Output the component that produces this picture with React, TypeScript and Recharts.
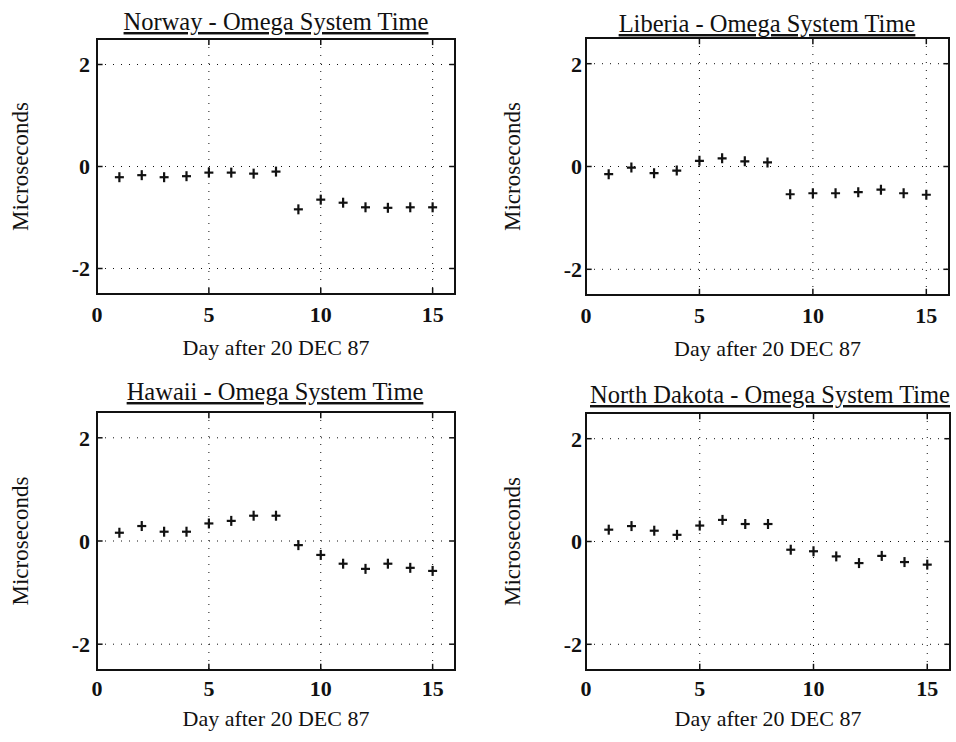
import React from "react";
import {
  ScatterChart,
  Scatter,
  XAxis,
  YAxis,
  CartesianGrid,
  ReferenceArea,
  ReferenceLine,
} from "recharts";

// days after 20 DEC 87
const days = [1, 2, 3, 4, 5, 6, 7, 8, 9, 10, 11, 12, 13, 14, 15];

// Omega system time offsets, microseconds
const norway = [-0.21, -0.17, -0.21, -0.19, -0.12, -0.12, -0.14, -0.1, -0.84, -0.65, -0.71, -0.8, -0.81, -0.8, -0.8];
const liberia = [-0.15, -0.02, -0.13, -0.08, 0.11, 0.16, 0.1, 0.08, -0.54, -0.52, -0.52, -0.5, -0.45, -0.52, -0.55];
const hawaii = [0.16, 0.29, 0.18, 0.18, 0.34, 0.39, 0.49, 0.49, -0.08, -0.27, -0.44, -0.54, -0.44, -0.52, -0.58];
const northDakota = [0.23, 0.3, 0.21, 0.13, 0.31, 0.42, 0.34, 0.34, -0.16, -0.19, -0.29, -0.42, -0.28, -0.4, -0.45];

const xTicks = [0, 5, 10, 15];
const yTicks = [-2, 0, 2];
const xDomain = [0, 16];
const yDomain = [-2.5, 2.5];

const xLabel = "Day after 20 DEC 87";
const yLabel = "Microseconds";

const FONT = '"Liberation Serif", "Times New Roman", serif';
const INK = "#111";

// little "+" marker like the old plotter output
function Plus(props: any) {
  const { cx, cy } = props;
  if (cx == null || cy == null) return null;
  return (
    <g>
      <line x1={cx - 4.5} x2={cx + 4.5} y1={cy} y2={cy} stroke={INK} strokeWidth={2.2} />
      <line x1={cx} x2={cx} y1={cy - 5} y2={cy + 5} stroke={INK} strokeWidth={2.2} />
    </g>
  );
}

interface PanelProps {
  values: number[];
  left: number;
  top: number;
  width: number;
  height: number;
  margin: { top: number; right: number; bottom: number; left: number };
  xAxisHeight: number;
  yAxisWidth: number;
  yLabelX: number;
  yTickGap: number;
  xTickGap: number;
  xLabelOffset: number;
}

function Panel(p: PanelProps) {
  const data = days.map((d, i) => ({ day: d, v: p.values[i] }));

  // rotated y label, centred on the plot height
  const renderYLabel = (props: any) => {
    const vb = props.viewBox || {};
    const cy = (vb.y || 0) + (vb.height || 0) / 2;
    return (
      <text
        x={p.yLabelX}
        y={cy}
        transform={`rotate(-90, ${p.yLabelX}, ${cy})`}
        textAnchor="middle"
        dominantBaseline="central"
        fill={INK}
        fontFamily={FONT}
        fontSize={23}
      >
        {yLabel}
      </text>
    );
  };

  return (
    <div style={{ position: "absolute", left: p.left, top: p.top }}>
      <ScatterChart width={p.width} height={p.height} margin={p.margin}>
        <CartesianGrid stroke={INK} strokeDasharray="1 7" strokeWidth={1} />
        <XAxis
          dataKey="day"
          type="number"
          domain={xDomain}
          ticks={xTicks}
          height={p.xAxisHeight}
          axisLine={false}
          tickLine={false}
          tickSize={0}
          tickMargin={p.xTickGap}
          tick={{ fill: INK, fontFamily: FONT, fontSize: 22, fontWeight: "bold" }}
          label={{
            value: xLabel,
            position: "insideTop",
            offset: p.xLabelOffset,
            style: { fill: INK, fontFamily: FONT, fontSize: 22 },
          }}
        />
        <YAxis
          dataKey="v"
          type="number"
          domain={yDomain}
          ticks={yTicks}
          allowDataOverflow
          width={p.yAxisWidth}
          axisLine={false}
          tickLine={false}
          tickSize={0}
          tickMargin={p.yTickGap}
          tick={{ fill: INK, fontFamily: FONT, fontSize: 22, fontWeight: "bold" }}
          label={{ value: yLabel, position: "insideLeft", content: renderYLabel }}
        />
        <ReferenceArea
          x1={xDomain[0]}
          x2={xDomain[1]}
          y1={yDomain[0]}
          y2={yDomain[1]}
          fill="none"
          fillOpacity={0}
          stroke={INK}
          strokeWidth={2}
        />
        {xTicks.slice(1).map((t) => (
          <ReferenceLine
            key={"tb" + t}
            segment={[{ x: t, y: yDomain[0] }, { x: t, y: yDomain[0] + 0.12 }]}
            stroke={INK}
            strokeWidth={1.5}
          />
        ))}
        {xTicks.slice(1).map((t) => (
          <ReferenceLine
            key={"tt" + t}
            segment={[{ x: t, y: yDomain[1] }, { x: t, y: yDomain[1] - 0.12 }]}
            stroke={INK}
            strokeWidth={1.5}
          />
        ))}
        {yTicks.map((t) => (
          <ReferenceLine
            key={"tl" + t}
            segment={[{ x: xDomain[0], y: t }, { x: xDomain[0] + 0.25, y: t }]}
            stroke={INK}
            strokeWidth={1.5}
          />
        ))}
        {yTicks.map((t) => (
          <ReferenceLine
            key={"tr" + t}
            segment={[{ x: xDomain[1], y: t }, { x: xDomain[1] - 0.25, y: t }]}
            stroke={INK}
            strokeWidth={1.5}
          />
        ))}
        <Scatter data={data} shape={<Plus />} isAnimationActive={false} />
      </ScatterChart>
    </div>
  );
}

const titles = [
  { text: "Norway - Omega System Time", x: 276, y: 30 },
  { text: "Liberia - Omega System Time", x: 767, y: 32 },
  { text: "Hawaii - Omega System Time", x: 275, y: 400 },
  { text: "North Dakota - Omega System Time", x: 770, y: 403 },
];

export default function App() {
  return (
    <div
      style={{
        position: "absolute",
        left: 0,
        top: 0,
        width: 956,
        height: 742,
        background: "#fff",
        overflow: "hidden",
      }}
    >
      <Panel
        values={norway}
        left={0}
        top={0}
        width={478}
        height={371}
        margin={{ top: 39, right: 23, bottom: 0, left: 0 }}
        xAxisHeight={77}
        yAxisWidth={97}
        yLabelX={20}
        yTickGap={7}
        xTickGap={12}
        xLabelOffset={45}
      />
      <Panel
        values={liberia}
        left={490}
        top={0}
        width={466}
        height={371}
        margin={{ top: 38, right: 7, bottom: 0, left: 0 }}
        xAxisHeight={76}
        yAxisWidth={96}
        yLabelX={22}
        yTickGap={4}
        xTickGap={12}
        xLabelOffset={45}
      />
      <Panel
        values={hawaii}
        left={0}
        top={371}
        width={478}
        height={371}
        margin={{ top: 41, right: 23, bottom: 0, left: 0 }}
        xAxisHeight={72}
        yAxisWidth={97}
        yLabelX={20}
        yTickGap={7}
        xTickGap={10}
        xLabelOffset={40}
      />
      <Panel
        values={northDakota}
        left={490}
        top={371}
        width={466}
        height={371}
        margin={{ top: 42, right: 6, bottom: 0, left: 0 }}
        xAxisHeight={72}
        yAxisWidth={96}
        yLabelX={22}
        yTickGap={4}
        xTickGap={10}
        xLabelOffset={40}
      />
      <svg
        width={956}
        height={742}
        style={{ position: "absolute", left: 0, top: 0, pointerEvents: "none" }}
      >
        {titles.map((t) => (
          <text
            key={t.text}
            x={t.x}
            y={t.y}
            textAnchor="middle"
            textDecoration="underline"
            fill={INK}
            fontFamily={FONT}
            fontSize={24.5}
          >
            {t.text}
          </text>
        ))}
      </svg>
    </div>
  );
}
